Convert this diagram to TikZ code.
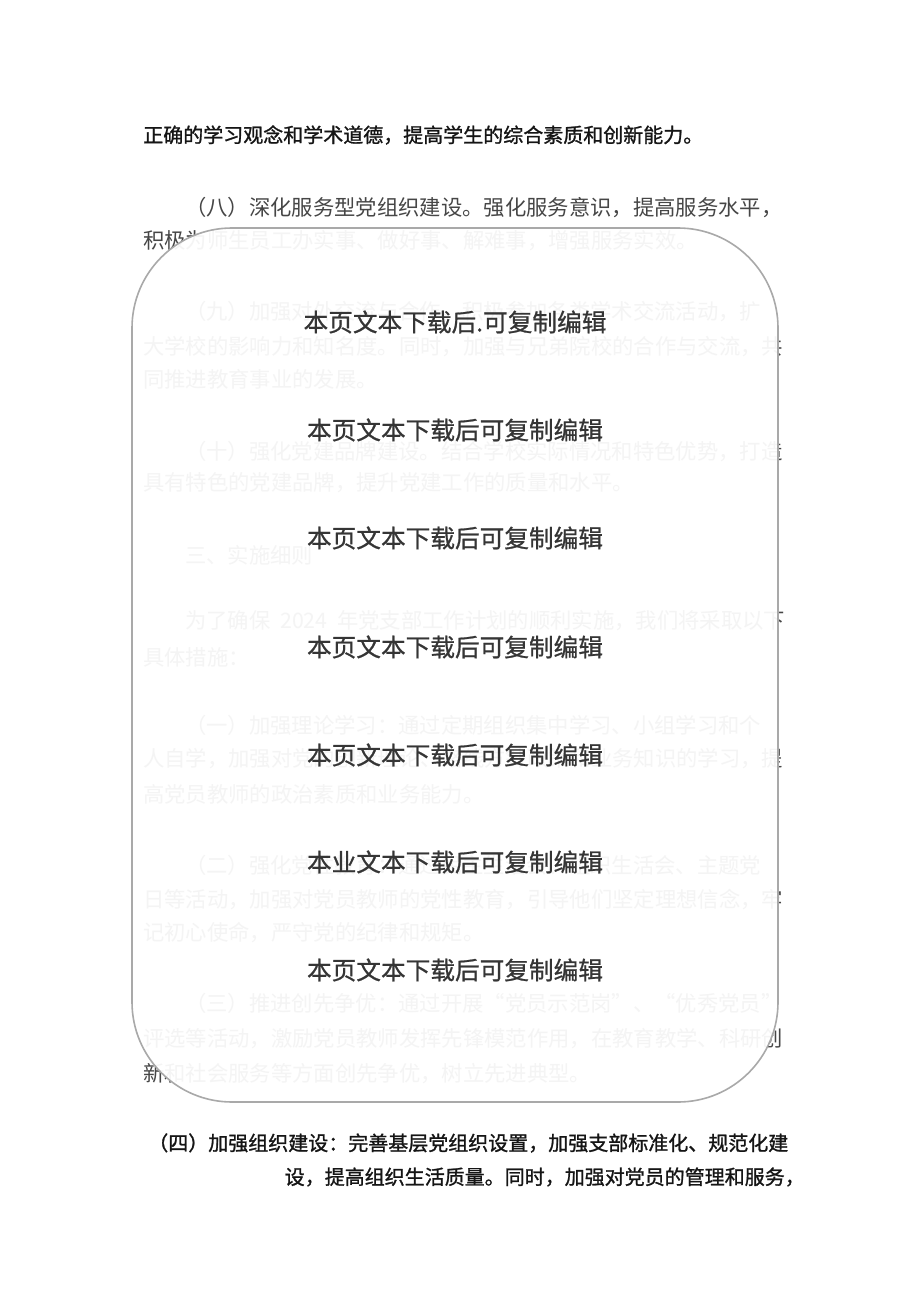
\documentclass[tikz,border=0pt]{standalone}
\usepackage{fontspec}
\setmainfont{Noto Sans CJK SC}
\newfontfamily\darkface{Noto Sans CJK SC}[FakeBold=1.2]
\newfontfamily\markface{Noto Sans CJK SC}[FakeBold=0.8]
\XeTeXlinebreaklocale "zh"
\XeTeXlinebreakskip=0pt plus 4pt minus 1pt
\definecolor{ink}{HTML}{151515}
\definecolor{scan}{HTML}{464646}
\definecolor{mark}{HTML}{353535}
\definecolor{rim}{HTML}{A9A9A9}
\newcommand{\jl}[2]{\makebox[#1][s]{#2}}

\begin{document}
\begin{tikzpicture}[x=0.75pt, y=-0.75pt]
	\tikzset{blk/.style={anchor=west, inner sep=0pt, text=ink, font=\darkface\fontsize{15pt}{15pt}\selectfont}};
	\tikzset{ln/.style={anchor=west, inner sep=0pt, text=scan, font=\fontsize{16pt}{16pt}\selectfont}};
	\tikzset{wm/.style={inner sep=0pt, text=mark, font=\markface\fontsize{18.5pt}{18.5pt}\selectfont}};
	\tikzset{panel/.style={draw=rim, line width=1.2pt, fill=white, fill opacity=0.94, rounded corners=75pt}};

	\useasboundingbox[fill=white] (0, 0) rectangle (920, 1301);

	\node[blk] (t1) at (143, 135) {正确的学习观念和学术道德，提高学生的综合素质和创新能力。};

	\node[ln] (p8a) at (185, 208) {\jl{450pt}{（八）深化服务型党组织建设。强化服务意识，提高服务水平，}};
	\node[ln] (p8b) at (143, 241) {积极为师生员工办实事、做好事、解难事，增强服务实效。};

	\node[ln] (p9a) at (185, 312) {\jl{450pt}{（九）加强对外交流与合作。积极参加各类学术交流活动，扩}};
	\node[ln] (p9b) at (143, 347) {\jl{481.5pt}{大学校的影响力和知名度。同时，加强与兄弟院校的合作与交流，共}};
	\node[ln] (p9c) at (143, 379) {同推进教育事业的发展。};

	\node[ln] (p10a) at (185, 452) {\jl{450pt}{（十）强化党建品牌建设。结合学校实际情况和特色优势，打造}};
	\node[ln] (p10b) at (143, 483) {具有特色的党建品牌，提升党建工作的质量和水平。};

	\node[ln] (h3) at (185, 555) {三、实施细则};

	\node[ln] (q0a) at (185, 621) {\jl{450pt}{为了确保 2024 年党支部工作计划的顺利实施，我们将采取以下}};
	\node[ln] (q0b) at (143, 657) {具体措施：};

	\node[ln] (q1a) at (185, 725) {\jl{450pt}{（一）加强理论学习：通过定期组织集中学习、小组学习和个}};
	\node[ln] (q1b) at (143, 759) {\jl{481.5pt}{人自学，加强对党的创新理论、路线方针政策和业务知识的学习，提}};
	\node[ln] (q1c) at (143, 794) {高党员教师的政治素质和业务能力。};

	\node[ln] (q2a) at (185, 865) {\jl{450pt}{（二）强化党性教育：通过民主生活会、组织生活会、主题党}};
	\node[ln] (q2b) at (143, 899) {\jl{481.5pt}{日等活动，加强对党员教师的党性教育，引导他们坚定理想信念，牢}};
	\node[ln] (q2c) at (143, 933) {记初心使命，严守党的纪律和规矩。};

	\node[ln] (q3a) at (185, 1003) {\jl{450pt}{（三）推进创先争优：通过开展“党员示范岗”、“优秀党员”}};
	\node[ln] (q3b) at (143, 1039) {\jl{481.5pt}{评选等活动，激励党员教师发挥先锋模范作用，在教育教学、科研创}};
	\node[ln] (q3c) at (143, 1074) {新和社会服务等方面创先争优，树立先进典型。};

	% overlay
	\draw[panel] (132, 228) rectangle (778, 1102);

	\node[wm] (wm1) at (455, 322) {本页文本下载后.可复制编辑};
	\node[wm] (wm2) at (455, 430) {本页文本下载后可复制编辑};
	\node[wm] (wm3) at (455, 538) {本页文本下载后可复制编辑};
	\node[wm] (wm4) at (455, 647) {本页文本下载后可复制编辑};
	\node[wm] (wm5) at (455, 755) {本页文本下载后可复制编辑};
	\node[wm] (wm6) at (455, 862) {本业文本下载后可复制编辑};
	\node[wm] (wm7) at (455, 970) {本页文本下载后可复制编辑};

	\node[blk] (p4a) at (148, 1143) {\jl{477.75pt}{（四）加强组织建设：完善基层党组织设置，加强支部标准化、规范化建}};
	\node[blk, anchor=east] (p4b) at (785, 1177) {\jl{375pt}{设，提高组织生活质量。同时，加强对党员的管理和服务，}};

\end{tikzpicture}
\end{document}
